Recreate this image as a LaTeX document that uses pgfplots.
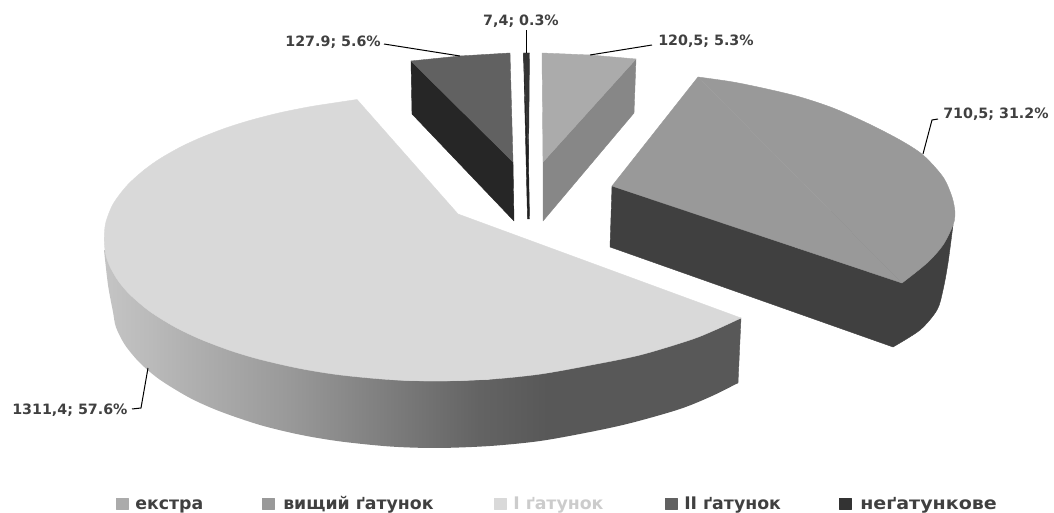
\documentclass[border=0pt]{standalone}
\usepackage{pgfplots}
\pgfplotsset{compat=1.18}
\usepackage{fontspec}
\setmainfont{DejaVu Sans}
\definecolor{lab}{HTML}{404040}
\definecolor{ga}{gray}{0.77}\definecolor{gb}{gray}{0.73}\definecolor{gc}{gray}{0.69}
\definecolor{gd}{gray}{0.60}\definecolor{ge}{gray}{0.49}\definecolor{gf}{gray}{0.39}
\definecolor{gg}{gray}{0.345}
\pgfdeclarehorizontalshading{sideshade}{100bp}{color(0bp)=(ga);color(25bp)=(ga);color(28.6bp)=(gb);color(31.75bp)=(gc);color(39.6bp)=(gd);color(47.45bp)=(ge);color(54.5bp)=(gf);color(60bp)=(gg);color(100bp)=(gg)}
\tikzset{
  lbl/.style={font=\bfseries\fontsize{10.7pt}{12pt}\selectfont, text=lab, inner sep=0pt},
  lg/.style={font=\bfseries\fontsize{13pt}{15pt}\selectfont, inner sep=0pt, anchor=base west},
}
\begin{document}
\begin{tikzpicture}
\begin{axis}[
  scale only axis, width=790.5pt, height=384.75pt,
  xmin=0, xmax=1054, ymin=0, ymax=513, y dir=reverse,
  hide axis, clip=false,
  every axis plot/.append style={no markers, line join=round, line width=0.3pt},
]
\path (axis cs:0,0) (axis cs:1054,513);
% I grade: side
\addplot[smooth, draw=none, shading=sideshade, shading angle=0] coordinates {
(104,250) (108,285) (113,312) (116,327.3) (125,345) (140,363) (160,379.8) (190,398) (220,411.4) (260,425) (300,434.7) (340,441.4) (390,446.5) (437,448) (490,446) (540,441) (590,432) (631,423) (680,409) (712,396) (738,383)};
\addplot[fill=gg, draw=gg] coordinates {(741,318) (738,383) (600,395) (600,350) (741,318)};
% I grade: top
\addplot[fill=black!15, draw=black!15] coordinates {(458,214) (741,318) (437,375) (357,99.5) (458,214)};
\addplot[smooth, fill=black!15, draw=black!15] coordinates {
(741,318) (715,330) (690,340) (640,355) (590,365.2) (540,374.1) (490,379.2) (437,381) (390,379.6)};
\addplot[smooth, fill=black!15, draw=black!15] coordinates {
(490,379.2) (437,381) (390,379.6) (340,374.9) (300,368.5) (260,359.4) (230,350.4) (200,339) (175,327) (150,311.5) (130,294.6) (118,280.5) (110,266.6) (106,255.4) (104.3,243) (104.5,232) (106,221.6) (112,206) (120,194) (130,182.4) (145,169.3) (160,158.7) (180,147.3) (200,138) (225,128.3) (250,120.4) (280,112.7) (310,106.7) (335,102.8) (357,99.5)};
% higher grade
\addplot[fill=black!75, draw=black!75] coordinates {(612,186) (610,247) (893,347) (935,300) (953,225) (612,186)};
\addplot[smooth, fill=black!75, draw=black!75] coordinates {(893,347) (920,330) (937,310) (943,290) (948,263) (953,225)};
\addplot[fill=black!40, draw=black!40] coordinates {(698,77) (902,283) (612,186) (698,77)};
\addplot[smooth, fill=black!40, draw=black!40] coordinates {
(698,77) (733,82) (767,89) (800,97) (833,108) (867,123) (900,140) (923,155) (943,177) (952,197) (955,213) (953,225) (943,245) (927,263) (902,283)};
% extra
\addplot[fill=black!47, draw=black!47] coordinates {(636,59) (634,113) (543,221) (543,162) (636,59)};
\addplot[fill=black!33, draw=black!33] coordinates {(542,53) (590,55) (636,59) (543,162) (542,53)};
% II grade
\addplot[fill=black!85, draw=black!85] coordinates {(411,61) (412,114) (514,221) (513,162) (411,61)};
\addplot[fill=black!62, draw=black!62] coordinates {(510,53) (460,56) (411,61) (513,162) (510,53)};
% non-grade
\addplot[fill=black!87, draw=black!87] coordinates {(523.5,53) (528.5,160) (529.5,219) (527.5,219) (523.5,53)};
\addplot[fill=black!80, draw=black!80] coordinates {(523.5,53) (529.5,53) (528.5,160) (523.5,53)};
% leaders
\addplot[black, line width=0.75pt] coordinates {(590,55) (652,45)};
\addplot[black, line width=0.75pt] coordinates {(526.5,53) (526.5,30)};
\addplot[black, line width=0.75pt] coordinates {(460,56) (384,44)};
\addplot[black, line width=0.75pt] coordinates {(923,154) (932,120) (938,119)};
\addplot[black, line width=0.75pt] coordinates {(148,368) (141,408) (132,409)};
% data labels
\node[lbl, anchor=west] at (axis cs:658,41) {120,5; 5.3\%};
\node[lbl, anchor=center] at (axis cs:521,21) {7,4; 0.3\%};
\node[lbl, anchor=east] at (axis cs:381,42) {127.9; 5.6\%};
\node[lbl, anchor=west] at (axis cs:943,114) {710,5; 31.2\%};
\node[lbl, anchor=west] at (axis cs:12,410) {1311,4; 57.6\%};
% legend
\addplot[fill=black!33, draw=black!33] coordinates {(116,498) (128,498) (128,509) (116,509) (116,498)};
\addplot[fill=black!40, draw=black!40] coordinates {(262,498) (274,498) (274,509) (262,509) (262,498)};
\addplot[fill=black!15, draw=black!15] coordinates {(494,498) (506,498) (506,509) (494,509) (494,498)};
\addplot[fill=black!62, draw=black!62] coordinates {(665,498) (677,498) (677,509) (665,509) (665,498)};
\addplot[fill=black!80, draw=black!80] coordinates {(839,498) (851,498) (851,509) (839,509) (839,498)};
\node[lg, text=lab] at (axis cs:135,509) {екстра};
\node[lg, text=lab] at (axis cs:283,509) {вищий ґатунок};
\node[lg, text=black!20] at (axis cs:513,509) {І ґатунок};
\node[lg, text=lab] at (axis cs:684,509) {ІІ ґатунок};
\node[lg, text=lab] at (axis cs:860,509) {\scalebox{1.1}[1]{неґатункове}};
\end{axis}
\end{tikzpicture}
\end{document}
